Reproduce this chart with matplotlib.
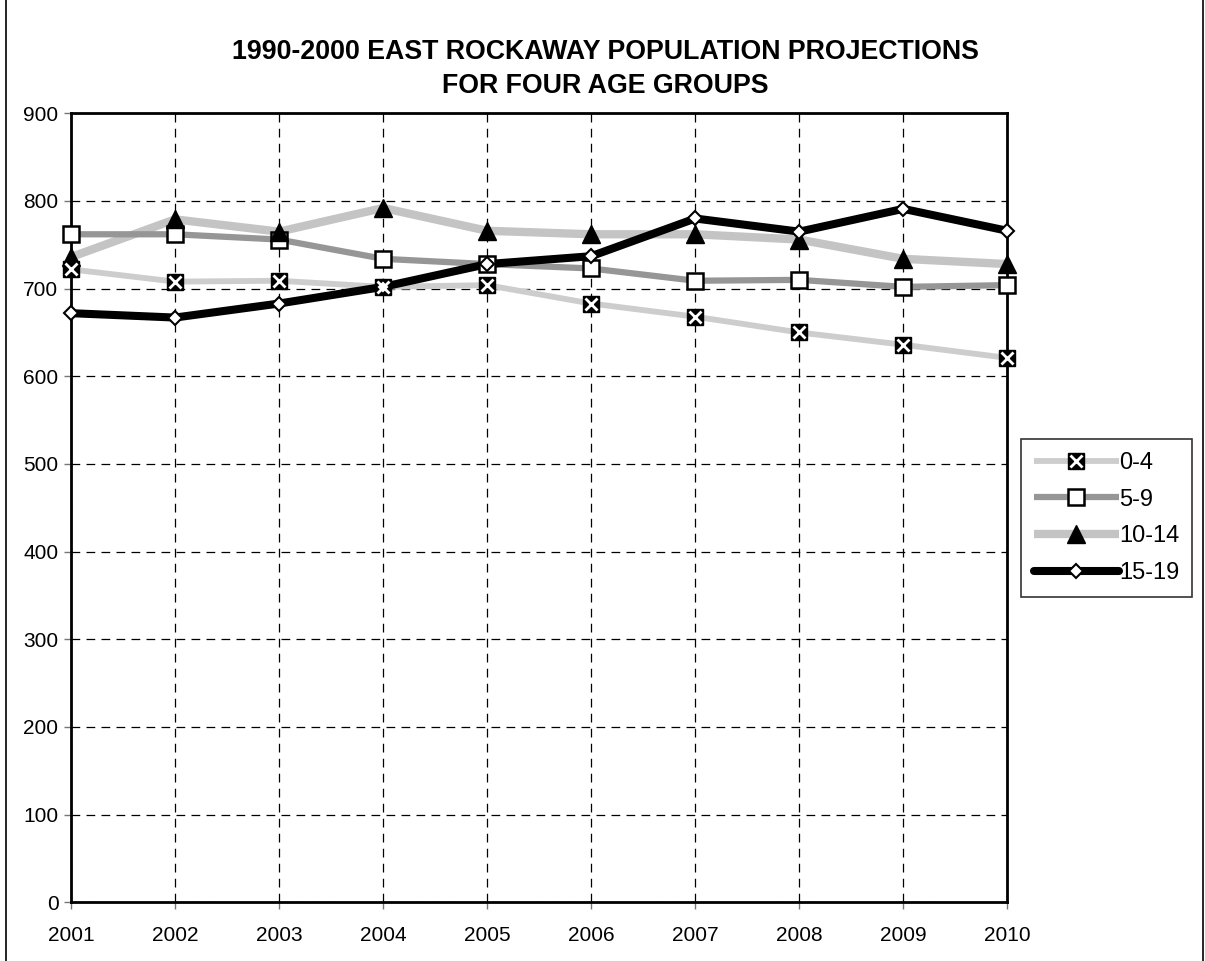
import matplotlib
matplotlib.use("Agg")
import matplotlib.pyplot as plt
from matplotlib.lines import Line2D
from matplotlib.legend_handler import HandlerTuple

plt.rcParams['font.family'] = ['Liberation Sans', 'DejaVu Sans']

years = [2001, 2002, 2003, 2004, 2005, 2006, 2007, 2008, 2009, 2010]
age_0_4 = [722, 708, 709, 702, 704, 683, 668, 650, 636, 621]
age_5_9 = [762, 762, 756, 734, 728, 723, 709, 710, 702, 704]
age_10_14 = [736, 779, 765, 792, 766, 762, 762, 756, 734, 728]
age_15_19 = [672, 667, 683, 702, 728, 737, 780, 765, 791, 766]
labels = ["0-4", "5-9", "10-14", "15-19"]
title = "1990-2000 EAST ROCKAWAY POPULATION PROJECTIONS\nFOR FOUR AGE GROUPS"

fig = plt.figure(figsize=(12.05, 9.61), dpi=100)
ax = fig.add_axes([71 / 1205, 1 - 902.3 / 961, (1007.3 - 71) / 1205, (902.3 - 113.3) / 961])

# page edges
fig.add_artist(Line2D([6 / 1205, 6 / 1205], [0, 1], color='black', lw=1.2, transform=fig.transFigure))
fig.add_artist(Line2D([1203 / 1205, 1203 / 1205], [0, 1], color='black', lw=1.2, transform=fig.transFigure))

# 0-4 : light stippled line, black box with white cross
l04 = ax.plot(years, age_0_4, color='#cdcdcd', lw=4.2, zorder=3, solid_capstyle='butt')[0]
m04a = ax.plot(years, age_0_4, ls='none', marker='s', ms=11, mfc='black', mec='black', zorder=6, clip_on=False)[0]
m04b = ax.plot(years, age_0_4, ls='none', marker='x', ms=9, mec='white', mew=2.0, zorder=7, clip_on=False)[0]

# 5-9 : solid grey line, open squares
l59 = ax.plot(years, age_5_9, color='#969696', lw=4.5, zorder=4, solid_capstyle='butt')[0]
m59 = ax.plot(years, age_5_9, ls='none', marker='s', ms=11, mfc='white', mec='black', mew=1.8, zorder=6, clip_on=False)[0]

# 10-14 : wider stippled line, black triangles
l1014 = ax.plot(years, age_10_14, color='#c4c4c4', lw=6, zorder=3, solid_capstyle='butt')[0]
m1014 = ax.plot(years, age_10_14, ls='none', marker='^', ms=12.5, mfc='black', mec='black', zorder=6, clip_on=False)[0]

# 15-19 : heavy black line, small open diamonds
l1519 = ax.plot(years, age_15_19, color='black', lw=5.8, zorder=5, solid_capstyle='round')[0]
m1519 = ax.plot(years, age_15_19, ls='none', marker='D', ms=7, mfc='white', mec='black', mew=1.5, zorder=6, clip_on=False)[0]

ax.set_xlim(2001, 2010)
ax.set_ylim(0, 900)
ax.set_xticks(years)
ax.set_xticklabels([str(y) for y in years])
ax.set_yticks(range(0, 901, 100))

ax.grid(True, color='black', ls=(0, (7, 5)), lw=0.9)
ax.set_axisbelow(True)
for s in ax.spines.values():
    s.set_linewidth(2)
ax.tick_params(axis='both', direction='out', length=5, width=1, color='#777777',
               labelsize=15, labelcolor='black')
ax.tick_params(axis='x', pad=12)
ax.tick_params(axis='y', pad=4)

fig.text(605 / 1205, 1 - 69 / 961, title, ha='center', va='center', fontsize=19.3,
         fontweight='bold', linespacing=1.42)

handles = [(l04, m04a, m04b), (l59, m59), (l1014, m1014), (l1519, m1519)]
leg = fig.legend(handles, labels, handler_map={tuple: HandlerTuple(ndivide=1)},
                 loc='upper left', bbox_to_anchor=(1021 / 1205, 1 - 439 / 961),
                 fontsize=17, frameon=True, fancybox=False, edgecolor='black',
                 handlelength=3.6, handletextpad=0.0, labelspacing=0.62,
                 borderpad=0.55, borderaxespad=0)
leg.get_frame().set_linewidth(1.2)

fig.savefig("out.png", dpi=100)
